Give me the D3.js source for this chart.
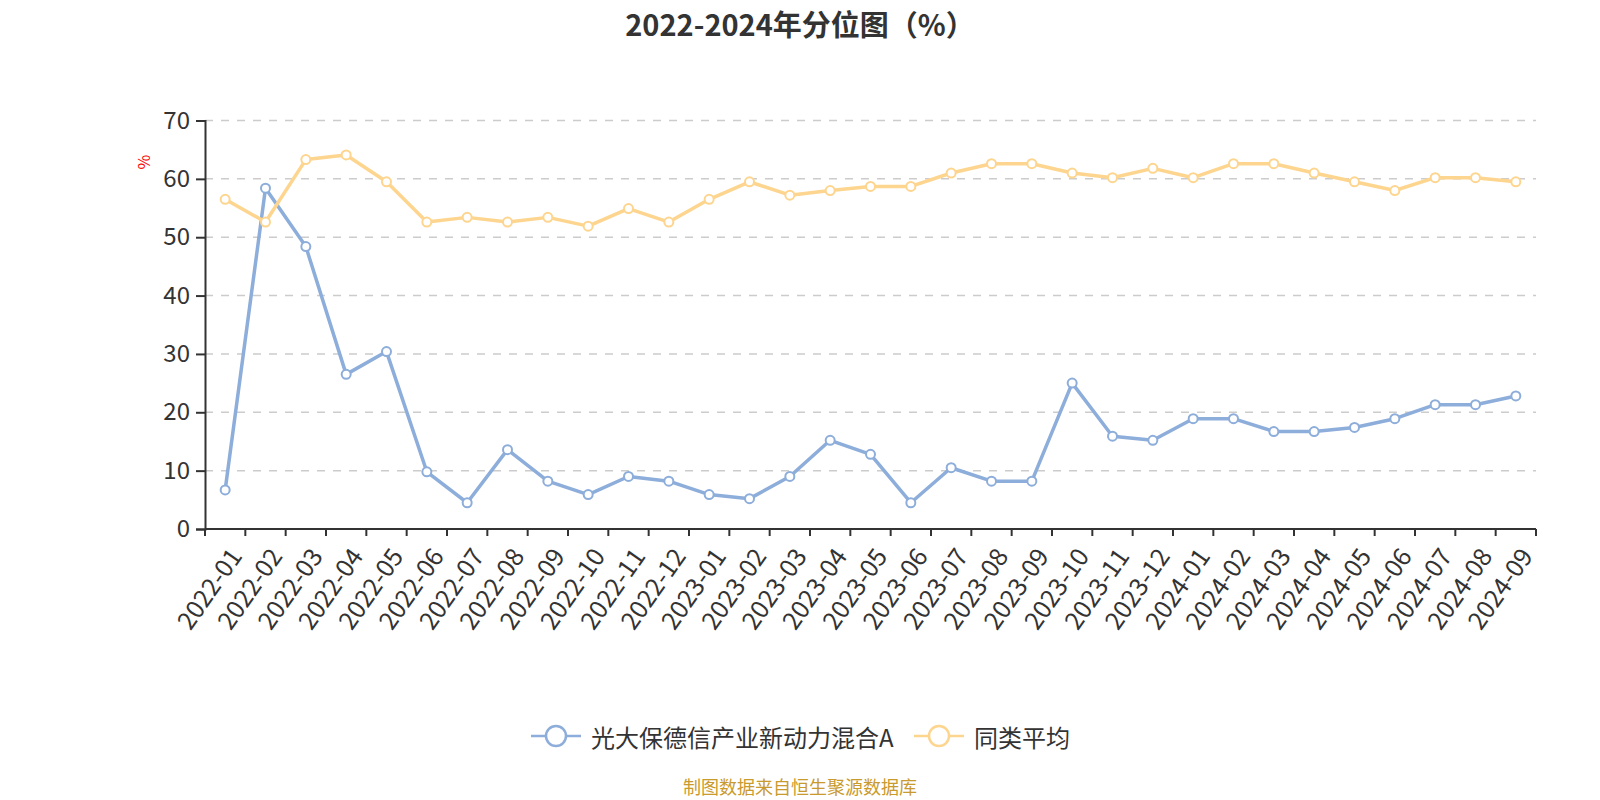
<!DOCTYPE html>
<html>
<head>
<meta charset="utf-8">
<script src="https://cdn.jsdelivr.net/npm/d3@7/dist/d3.min.js"></script>
<style>
  body { margin: 0; background: #fff; }
  text { font-family: "Noto Sans CJK SC", "Noto Sans", sans-serif; }
</style>
</head>
<body>
<div id="chart"></div>
<script>
// months on the x axis
var months = [
  '2022-01','2022-02','2022-03','2022-04','2022-05','2022-06','2022-07','2022-08','2022-09','2022-10','2022-11','2022-12',
  '2023-01','2023-02','2023-03','2023-04','2023-05','2023-06','2023-07','2023-08','2023-09','2023-10','2023-11','2023-12',
  '2024-01','2024-02','2024-03','2024-04','2024-05','2024-06','2024-07','2024-08','2024-09'
];
// 光大保德信产业新动力混合A
var fundValues = [
  6.7, 58.4, 48.4, 26.5, 30.4, 9.8, 4.5, 13.6, 8.2, 5.9, 9.0, 8.2,
  5.9, 5.2, 9.0, 15.2, 12.8, 4.5, 10.5, 8.2, 8.2, 25.0, 15.9, 15.2,
  18.9, 18.9, 16.7, 16.7, 17.4, 18.9, 21.3, 21.3, 22.8
];
// 同类平均
var avgValues = [
  56.5, 52.6, 63.3, 64.1, 59.5, 52.6, 53.4, 52.6, 53.4, 51.9, 54.9, 52.6,
  56.5, 59.5, 57.2, 58.0, 58.7, 58.7, 61.0, 62.6, 62.6, 61.0, 60.2, 61.8,
  60.2, 62.6, 62.6, 61.0, 59.5, 58.0, 60.2, 60.2, 59.5
];
var yTicks = [0, 10, 20, 30, 40, 50, 60, 70];
var seriesNames = ['光大保德信产业新动力混合A', '同类平均'];

var width = 1600, height = 800;
var plotLeft = 205, plotRight = 1536, plotTop = 120.5, plotBottom = 529;
var colors = ['#8dadda', '#fdd58f'];

var svg = d3.select('#chart').append('svg')
  .attr('width', width)
  .attr('height', height);

var x = d3.scaleBand().domain(months).range([plotLeft, plotRight]).padding(0);
var y = d3.scaleLinear().domain([0, 70]).range([plotBottom, plotTop]);

// title
svg.append('text')
  .attr('x', 800).attr('y', 23)
  .attr('text-anchor', 'middle')
  .attr('dominant-baseline', 'central')
  .style('font-size', '29px')
  .style('font-weight', 'bold')
  .style('fill', '#333')
  .text('2022-2024年分位图（%）');

// grid lines
svg.append('g')
  .selectAll('line')
  .data(yTicks)
  .enter()
  .append('line')
    .attr('x1', plotLeft).attr('x2', plotRight)
    .attr('y1', function(d) { return y(d); })
    .attr('y2', function(d) { return y(d); })
    .style('stroke', '#cccccc')
    .style('stroke-width', 1.5)
    .style('stroke-dasharray', '8,8');

// y axis
var yAxis = svg.append('g')
  .attr('transform', 'translate(' + plotLeft + ',0)')
  .call(d3.axisLeft(y).tickValues(yTicks).tickSize(9).tickPadding(6));
yAxis.select('.domain').style('stroke', '#333').style('stroke-width', 2);
yAxis.selectAll('.tick line').style('stroke', '#333').style('stroke-width', 2);
yAxis.selectAll('.tick text')
  .style('font-size', '24px')
  .style('fill', '#333')
  .style('font-family', '"Noto Sans CJK SC", sans-serif');

// y axis name
svg.append('text')
  .attr('transform', 'translate(143,162) rotate(-90)')
  .attr('text-anchor', 'middle')
  .attr('dominant-baseline', 'central')
  .style('font-size', '16px')
  .style('fill', 'red')
  .text('%');

// x axis
var xg = svg.append('g').attr('transform', 'translate(0,' + plotBottom + ')');
xg.append('line')
  .attr('x1', plotLeft).attr('x2', plotRight)
  .style('stroke', '#333').style('stroke-width', 2);
var boundaries = months.map(function(m) { return x(m); }).concat([plotRight]);
xg.selectAll('.xtick')
  .data(boundaries)
  .enter()
  .append('line')
    .attr('x1', function(d) { return d; })
    .attr('x2', function(d) { return d; })
    .attr('y1', 0).attr('y2', 7)
    .style('stroke', '#333').style('stroke-width', 2);
xg.selectAll('.xlabel')
  .data(months)
  .enter()
  .append('text')
    .attr('transform', function(d) {
      return 'translate(' + (x(d) + x.bandwidth() / 2 + 9) + ',21) rotate(-55)';
    })
    .attr('text-anchor', 'end')
    .attr('dominant-baseline', 'central')
    .style('font-size', '25px')
    .style('fill', '#333')
    .text(function(d) { return d; });

// lines and markers
var line = d3.line()
  .x(function(d, i) { return x(months[i]) + x.bandwidth() / 2; })
  .y(function(d) { return y(d); });

[fundValues, avgValues].forEach(function(vals, s) {
  svg.append('path')
    .datum(vals)
    .attr('d', line)
    .style('fill', 'none')
    .style('stroke', colors[s])
    .style('stroke-width', 3.5)
    .style('stroke-linejoin', 'round');
  svg.append('g')
    .selectAll('circle')
    .data(vals)
    .enter()
    .append('circle')
      .attr('cx', function(d, i) { return x(months[i]) + x.bandwidth() / 2; })
      .attr('cy', function(d) { return y(d); })
      .attr('r', 4.5)
      .style('fill', '#fff')
      .style('stroke', colors[s])
      .style('stroke-width', 2);
});

// legend
var legendY = 736;
var legendX = [531, 914];
seriesNames.forEach(function(name, s) {
  var g = svg.append('g').attr('transform', 'translate(' + legendX[s] + ',' + legendY + ')');
  g.append('line')
    .attr('x1', 0).attr('x2', 50)
    .style('stroke', colors[s]).style('stroke-width', 2.5);
  g.append('circle')
    .attr('cx', 25).attr('cy', 0).attr('r', 10)
    .style('fill', '#fff')
    .style('stroke', colors[s]).style('stroke-width', 2.5);
  g.append('text')
    .attr('x', 60).attr('y', 0)
    .attr('dominant-baseline', 'central')
    .style('font-size', '24px')
    .style('fill', '#333')
    .text(name);
});

// footer
svg.append('text')
  .attr('x', 800).attr('y', 786)
  .attr('text-anchor', 'middle')
  .attr('dominant-baseline', 'central')
  .style('font-size', '18px')
  .style('fill', '#c99a2e')
  .text('制图数据来自恒生聚源数据库');
</script>
</body>
</html>
